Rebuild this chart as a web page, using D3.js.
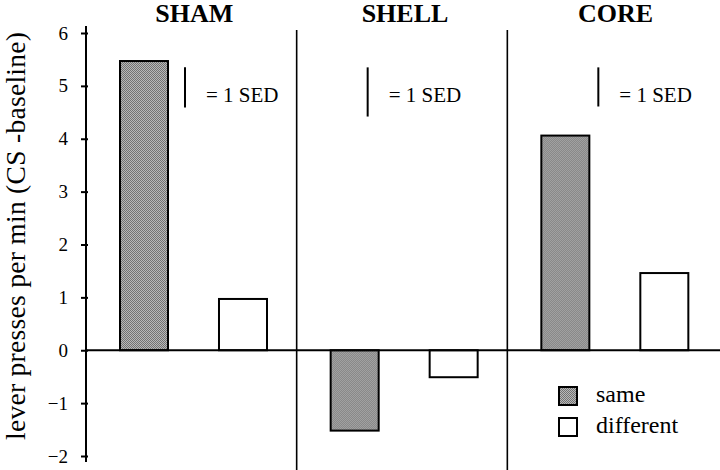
<!DOCTYPE html>
<html>
<head>
<meta charset="utf-8">
<script src="https://cdnjs.cloudflare.com/ajax/libs/d3/7.8.5/d3.min.js"></script>
<style>
  body { margin: 0; background: #fff; }
  svg text { font-family: "Liberation Serif", "Times New Roman", serif; }
</style>
</head>
<body>
<svg width="720" height="470"></svg>
<script>
// data
var groups = ["SHAM", "SHELL", "CORE"];
var conditions = ["same", "different"];
var sameValues = [5.47, -1.52, 4.06];
var differentValues = [0.97, -0.51, 1.46];
var sedValues = [0.76, 0.93, 0.74];
var yTicks = [-2, -1, 0, 1, 2, 3, 4, 5, 6];

var serif = '"Liberation Serif", "Times New Roman", serif';

var svg = d3.select("svg"),
    axisX = 86,
    sedTop = 5.35,
    sedOffset = {SHAM: 99, SHELL: 71, CORE: 91};

var y = d3.scaleLinear()
    .domain([-2, 6])
    .range([456, 33]);

var x0 = d3.scaleBand()
    .domain(groups)
    .range([axisX, 718]);

var x1 = d3.scaleBand()
    .domain(conditions)
    .range([34, 181])
    .paddingInner(0.515);

// stippled grey fill
var pat = svg.append("defs").append("pattern")
    .attr("id", "stipple")
    .attr("width", 2).attr("height", 2)
    .attr("patternUnits", "userSpaceOnUse");
pat.append("rect").attr("width", 2).attr("height", 2).attr("fill", "#b8b8b8");
pat.append("rect").attr("width", 1).attr("height", 1).attr("fill", "#727272");
pat.append("rect").attr("x", 1).attr("y", 1).attr("width", 1).attr("height", 1).attr("fill", "#727272");

var fills = {same: "url(#stipple)", different: "#fff"};

var data = groups.map(function(g, i) {
  return {group: g, same: sameValues[i], different: differentValues[i], sed: sedValues[i]};
});

// panel dividers
svg.append("g").selectAll("line")
    .data(groups.slice(1))
    .enter().append("line")
    .attr("x1", function(d) { return x0(d); })
    .attr("x2", function(d) { return x0(d); })
    .attr("y1", 30)
    .attr("y2", 470)
    .attr("stroke", "#000")
    .attr("stroke-width", 1.6);

// bars
var bars = svg.append("g").selectAll("g")
    .data(data)
    .enter().append("g")
    .attr("transform", function(d) { return "translate(" + x0(d.group) + ",0)"; });

bars.selectAll("rect")
    .data(function(d) { return conditions.map(function(c) { return {key: c, value: d[c]}; }); })
    .enter().append("rect")
    .attr("x", function(d) { return x1(d.key); })
    .attr("width", x1.bandwidth())
    .attr("y", function(d) { return y(Math.max(0, d.value)); })
    .attr("height", function(d) { return Math.abs(y(d.value) - y(0)); })
    .attr("fill", function(d) { return fills[d.key]; })
    .attr("stroke", "#000")
    .attr("stroke-width", 2);

// zero line
svg.append("line")
    .attr("x1", axisX)
    .attr("x2", 720)
    .attr("y1", y(0))
    .attr("y2", y(0))
    .attr("stroke", "#000")
    .attr("stroke-width", 2);

// y axis
var yAxis = svg.append("g")
    .attr("transform", "translate(" + axisX + ",0)")
    .call(d3.axisLeft(y).tickValues(yTicks).tickSizeInner(5).tickSizeOuter(0).tickPadding(13));

yAxis.attr("font-family", null);
yAxis.select(".domain")
    .attr("d", "M0," + (y(6) - 7) + "V" + (y(-2) + 6))
    .attr("stroke-width", 2);
yAxis.selectAll(".tick line")
    .attr("x1", 2)
    .attr("stroke-width", 2);
yAxis.selectAll(".tick text")
    .style("font-family", serif)
    .attr("font-size", 19)
    .attr("fill", "#000");

svg.append("text")
    .attr("transform", "translate(25,236) rotate(-90)")
    .attr("text-anchor", "middle")
    .style("font-family", serif)
    .attr("font-size", 27.5)
    .attr("textLength", 408)
    .attr("lengthAdjust", "spacing")
    .text("lever presses per min (CS -baseline)");

// panel titles
svg.append("g").selectAll("text")
    .data(groups)
    .enter().append("text")
    .attr("x", function(d) { return x0(d) + x0.bandwidth() / 2 + 3; })
    .attr("y", 22)
    .attr("text-anchor", "middle")
    .style("font-family", serif)
    .attr("font-size", 26)
    .attr("font-weight", "bold")
    .text(function(d) { return d; });

// 1 SED markers
var sed = svg.append("g").selectAll("g")
    .data(data)
    .enter().append("g")
    .attr("transform", function(d) { return "translate(" + (x0(d.group) + sedOffset[d.group]) + ",0)"; });

sed.append("line")
    .attr("y1", y(sedTop))
    .attr("y2", function(d) { return y(sedTop - d.sed); })
    .attr("stroke", "#000")
    .attr("stroke-width", 2);

sed.append("text")
    .attr("x", 21)
    .attr("y", 102)
    .style("font-family", serif)
    .attr("font-size", 21)
    .text("= 1 SED");

// legend
var legend = svg.append("g").selectAll("g")
    .data(conditions)
    .enter().append("g")
    .attr("transform", function(d, i) { return "translate(559," + (387 + i * 31) + ")"; });

legend.append("rect")
    .attr("width", 18)
    .attr("height", 18)
    .attr("fill", function(d) { return fills[d]; })
    .attr("stroke", "#000")
    .attr("stroke-width", 2);

legend.append("text")
    .attr("x", 37)
    .attr("y", 15)
    .style("font-family", serif)
    .attr("font-size", 24)
    .text(function(d) { return d; });
</script>
</body>
</html>
